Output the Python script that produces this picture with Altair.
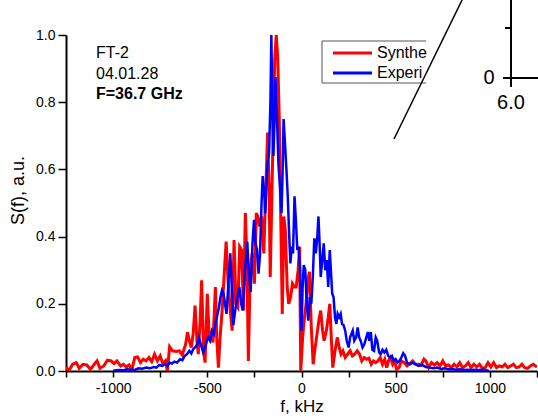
import altair as alt
import pandas as pd

# Synthetic (red) spectrum: frequency in kHz, S(f) in a.u.
red_f = [-1250, -1235, -1215, -1195, -1180, -1160, -1140, -1120, -1100, -1085, -1070, -1050, -1030, -1010,
         -995, -980, -960, -945, -930, -915, -900, -885, -870, -855, -840, -825, -810, -795, -780, -765,
         -750, -735, -722, -712, -700, -685, -665, -648, -633, -615, -605, -595, -585, -575, -565, -555,
         -548, -538, -530, -520, -512, -500, -490, -478, -470, -457, -450, -441, -432, -420, -410, -400,
         -390, -378, -368, -358, -348, -338, -328, -318, -308, -298, -290, -282, -272, -262, -250, -240,
         -232, -222, -212, -200, -192, -186, -180, -172, -166, -158, -150, -142, -134, -126, -118, -110,
         -102, -94, -86, -76, -68, -58, -48, -38, -28, -18, -10, -4, 6, 14, 24, 34, 42, 52, 62, 70, 80,
         92, 102, 112, 120, 132, 142, 150, 158, 166, 178, 190, 200, 210, 220, 232, 245, 258, 270, 282,
         296, 308, 320, 333, 345, 358, 370, 382, 394, 406, 418, 430, 442, 452, 462, 472, 484, 494, 505,
         518, 530, 545, 560, 575, 590, 605, 620, 635, 650, 660, 675, 690, 705, 720, 735, 750, 765, 780,
         795, 810, 825, 840, 855, 870, 885, 900, 915, 930, 945, 960, 975, 990, 1005, 1020, 1035, 1050,
         1065, 1080, 1095, 1110, 1125, 1140, 1155, 1170, 1185, 1200, 1215, 1230, 1250]
red_s = [0.012, 0.0, 0.02, 0.025, 0.008, 0.02, 0.018, 0.005, 0.02, 0.03, 0.008, 0.015, 0.032, 0.03,
         0.022, 0.03, 0.015, 0.02, 0.012, 0.018, 0.005, 0.04, 0.042, 0.025, 0.035, 0.03, 0.04, 0.028, 0.05, 0.03,
         0.045, 0.02, 0.03, 0.0, 0.072, 0.06, 0.058, 0.06, 0.048, 0.08, 0.115, 0.09, 0.07, 0.11, 0.195, 0.09,
         0.05, 0.15, 0.27, 0.06, 0.025, 0.23, 0.1, 0.12, 0.085, 0.25, 0.1, 0.01, 0.1, 0.19, 0.29, 0.385,
         0.27, 0.18, 0.12, 0.39, 0.2, 0.19, 0.37, 0.36, 0.18, 0.47, 0.33, 0.03, 0.3, 0.35, 0.26, 0.47,
         0.46, 0.43, 0.46, 0.35, 0.5, 0.6, 0.71, 0.55, 0.28, 0.5, 0.72, 0.93, 1.0, 0.93, 0.75, 0.45,
         0.17, 0.46, 0.42, 0.25, 0.2, 0.22, 0.26, 0.25, 0.25, 0.3, 0.37, 0.0, 0.1, 0.15, 0.2, 0.27, 0.295, 0.13, 0.02, 0.06, 0.1,
         0.15, 0.18, 0.12, 0.09, 0.12, 0.16, 0.2, 0.1, 0.01, 0.06, 0.1, 0.07, 0.05, 0.06, 0.04, 0.05, 0.06, 0.045, 0.05,
         0.06, 0.05, 0.03, 0.04, 0.035, 0.038, 0.02, 0.03, 0.025, 0.03, 0.04, 0.02, 0.035, 0.01, 0.03, 0.04, 0.02, 0.03, 0.005,
         0.01, 0.03, 0.025, 0.015, 0.022, 0.03, 0.02, 0.02, 0.018, 0.035, 0.03, 0.01, 0.025, 0.018, 0.025, 0.015, 0.03, 0.015, 0.018,
         0.01, 0.02, 0.012, 0.025, 0.01, 0.015, 0.025, 0.01, 0.02, 0.012, 0.02, 0.008, 0.01, 0.025, 0.012, 0.025, 0.01, 0.015,
         0.012, 0.02, 0.01, 0.015, 0.02, 0.01, 0.012, 0.02, 0.01, 0.008, 0.015, 0.02, 0.012]

# Experimental (blue) spectrum
blue_f = [-1000, -985, -965, -945, -925, -905, -885, -865, -845, -825, -805, -785, -770, -755, -740, -725,
          -712, -700, -688, -675, -660, -645, -632, -620, -608, -595, -585, -575, -565, -555, -545, -535,
          -522, -512, -502, -495, -485, -475, -465, -457, -447, -438, -430, -422, -414, -406, -398, -388,
          -378, -370, -362, -352, -340, -330, -320, -312, -300, -288, -280, -270, -260, -252, -244, -236,
          -228, -220, -212, -206, -198, -192, -186, -180, -172, -165, -160, -154, -149, -143, -138, -130,
          -122, -114, -106, -100, -95, -88, -80, -73, -65, -59, -52, -45, -37, -30, -22, -15, -8, 0, 6, 12,
          20, 28, 36, 44, 52, 60, 68, 76, 84, 90, 96, 102, 110, 118, 126, 134, 142, 150, 156, 163, 170, 178,
          185, 192, 200, 208, 215, 223, 232, 240, 250, 258, 265, 272, 280, 290, 298, 306, 314, 324, 334, 344,
          352, 360, 368, 376, 385, 394, 402, 412, 420, 430, 440, 450, 460, 470, 480, 490, 500, 510, 520, 530,
          540, 550, 560, 575, 590, 605, 620, 640, 660, 680, 700, 720, 740, 760, 780, 800, 820, 840, 860, 880,
          900, 920, 940, 960, 980, 995]
blue_s = [0.0, 0.002, 0.003, 0.002, 0.005, 0.004, 0.003, 0.008, 0.007, 0.01, 0.008, 0.012, 0.01, 0.018, 0.015, 0.02,
          0.015, 0.025, 0.022, 0.028, 0.025, 0.035, 0.032, 0.045, 0.05, 0.06, 0.052, 0.065, 0.07, 0.077, 0.1, 0.08,
          0.056, 0.07, 0.09, 0.1, 0.09, 0.12, 0.11, 0.14, 0.167, 0.19, 0.22, 0.24, 0.23, 0.2, 0.17, 0.26,
          0.35, 0.25, 0.137, 0.18, 0.22, 0.25, 0.2, 0.18, 0.3, 0.385, 0.3, 0.235, 0.38, 0.45, 0.38, 0.36,
          0.29, 0.35, 0.5, 0.58, 0.53, 0.47, 0.55, 0.62, 0.65, 0.8, 1.0, 0.75, 0.64, 0.75, 0.875, 0.75,
          0.61, 0.55, 0.47, 0.6, 0.75, 0.68, 0.6, 0.52, 0.4, 0.32, 0.37, 0.35, 0.52, 0.45, 0.36, 0.37, 0.3, 0.12, 0.25, 0.315,
          0.3, 0.2, 0.15, 0.22, 0.2, 0.28, 0.395, 0.35, 0.4, 0.46, 0.38, 0.28, 0.33, 0.38, 0.3, 0.33, 0.25, 0.36, 0.3, 0.23, 0.22, 0.16,
          0.14, 0.17, 0.16, 0.17, 0.14, 0.137, 0.12, 0.09, 0.07, 0.1, 0.11, 0.12, 0.09, 0.1, 0.13, 0.1, 0.09, 0.07, 0.08, 0.1,
          0.116, 0.09, 0.116, 0.063, 0.06, 0.1, 0.09, 0.055, 0.05, 0.063, 0.055, 0.063, 0.045, 0.04, 0.045, 0.03, 0.035, 0.025, 0.03, 0.04,
          0.053, 0.045, 0.025, 0.02, 0.025, 0.02, 0.015, 0.018, 0.012, 0.01, 0.008, 0.01, 0.006, 0.008, 0.005, 0.006, 0.004, 0.005, 0.003, 0.004,
          0.003, 0.004, 0.003, 0.004, 0.002, 0.0]

ann_lines = ["FT-2", "04.01.28"]
ann_bold = ["F=36.7 GHz"]
legend_labels = ["Synthe", "Experi"]
inset_labels = ["0", "6.0"]

FONT = "Liberation Sans"
red_df = pd.DataFrame({"f": red_f, "S": red_s})
blue_df = pd.DataFrame({"f": blue_f, "S": blue_s})

xscale = alt.Scale(domain=[-1250, 1250], nice=False, zero=False)
yscale = alt.Scale(domain=[0, 1], nice=False)

L, T = 66, 35  # plot origin in page pixels

xaxis = alt.Axis(
    values=list(range(-1250, 1251, 250)),
    labelExpr="datum.value % 500 == 0 ? '' + datum.value : ''",
    title="f, kHz", titleFont=FONT, titleFontSize=17, titleFontWeight="normal", titleColor="black",
    titlePadding=3,
    labelFont=FONT, labelFontSize=14, labelColor="black", labelPadding=4, labelFlush=False,
    tickSize=6, tickColor="black", tickWidth=1.5, domainColor="black", domainWidth=2, grid=False,
)
yaxis = alt.Axis(
    values=[round(i * 0.1, 1) for i in range(11)],
    labelExpr="round(datum.value * 10) % 2 == 0 ? format(datum.value, '.1f') : ''",
    title="S(f), a.u.", titleFont=FONT, titleFontSize=18, titleFontWeight="normal", titleColor="black",
    titlePadding=8, titleY=190 - T,
    labelFont=FONT, labelFontSize=14, labelColor="black", labelPadding=3, labelFlush=False,
    tickSize={"condition": {"test": "round(datum.value * 10) % 2 == 0", "value": 8}, "value": 5},
    tickColor="black", tickWidth=1.5, domainColor="black", domainWidth=2, grid=False,
)

red = alt.Chart(red_df).mark_line(color="#ff0000", strokeWidth=3, clip=True).encode(
    x=alt.X("f:Q", scale=xscale, axis=xaxis),
    y=alt.Y("S:Q", scale=yscale, axis=yaxis),
)
blue = alt.Chart(blue_df).mark_line(color="#0000ff", strokeWidth=2.5, clip=True).encode(
    x=alt.X("f:Q", scale=xscale),
    y=alt.Y("S:Q", scale=yscale),
)

ann_df = pd.DataFrame({"t": ann_lines, "y": [53 - T, 74 - T]})
ann = alt.Chart(ann_df).mark_text(font=FONT, fontSize=16, align="left", baseline="middle",
                                  color="black").encode(
    x=alt.value(96 - L), y=alt.Y("y:Q", scale=None), text="t:N")
annb_df = pd.DataFrame({"t": ann_bold, "y": [94 - T]})
annb = alt.Chart(annb_df).mark_text(font=FONT, fontSize=16, fontWeight="bold", align="left",
                                    baseline="middle", color="black").encode(
    x=alt.value(96 - L), y=alt.Y("y:Q", scale=None), text="t:N")

one = pd.DataFrame({"a": [0]})
box = alt.Chart(one).mark_rule(color="#555555", strokeWidth=1)
box_top = box.encode(x=alt.value(322 - L), x2=alt.value(426 - L), y=alt.value(41 - T))
box_bot = box.encode(x=alt.value(322 - L), x2=alt.value(426 - L), y=alt.value(83 - T))
box_left = box.encode(x=alt.value(322 - L), y=alt.value(41 - T), y2=alt.value(83 - T))
box_fill = alt.Chart(one).mark_rect(color="white").encode(
    x=alt.value(322 - L), x2=alt.value(426 - L), y=alt.value(41 - T), y2=alt.value(83 - T))
leg_red = alt.Chart(one).mark_rule(color="#ff0000", strokeWidth=3).encode(
    x=alt.value(333 - L), x2=alt.value(372 - L), y=alt.value(53 - T))
leg_blue = alt.Chart(one).mark_rule(color="#0000ff", strokeWidth=3).encode(
    x=alt.value(333 - L), x2=alt.value(372 - L), y=alt.value(73 - T))
leg_df = pd.DataFrame({"t": legend_labels, "y": [53 - T, 73 - T]})
leg_text = alt.Chart(leg_df).mark_text(font=FONT, fontSize=16, align="left", baseline="middle",
                                       color="black").encode(
    x=alt.value(377 - L), y=alt.Y("y:Q", scale=None), text="t:N")

diag = alt.Chart(one).mark_rule(color="black", strokeWidth=1.5).encode(
    x=alt.value(394 - L), y=alt.value(139 - T), x2=alt.value(465 - L), y2=alt.value(-6 - T))
ins = alt.Chart(one).mark_rule(color="black", strokeWidth=2)
ins_v = ins.encode(x=alt.value(511 - L), y=alt.value(0 - T), y2=alt.value(78 - T))
ins_h = ins.encode(x=alt.value(503 - L), x2=alt.value(540 - L), y=alt.value(78 - T))
ins_t1 = ins.encode(x=alt.value(511 - L), y=alt.value(78 - T), y2=alt.value(87 - T))
ins_t2 = ins.encode(x=alt.value(505 - L), x2=alt.value(511 - L), y=alt.value(28 - T))
ins_df = pd.DataFrame({"t": inset_labels, "x": [489 - L, 511 - L], "y": [78 - T, 103 - T]})
ins_text = alt.Chart(ins_df).mark_text(font=FONT, fontSize=20, align="center", baseline="middle",
                                       color="black").encode(
    x=alt.X("x:Q", scale=None), y=alt.Y("y:Q", scale=None), text="t:N")

chart = alt.layer(
    red, blue, ann, annb, box_fill, box_top, box_bot, box_left, leg_red, leg_blue, leg_text,
    diag, ins_v, ins_h, ins_t1, ins_t2, ins_text,
).properties(
    width=471, height=336,
    autosize=alt.AutoSizeParams(type="none"),
    padding={"left": L, "top": T, "right": 1, "bottom": 49},
    background="white",
).configure_view(stroke=None)

chart.save("out.html", embed_options={"renderer": "svg", "actions": False})
